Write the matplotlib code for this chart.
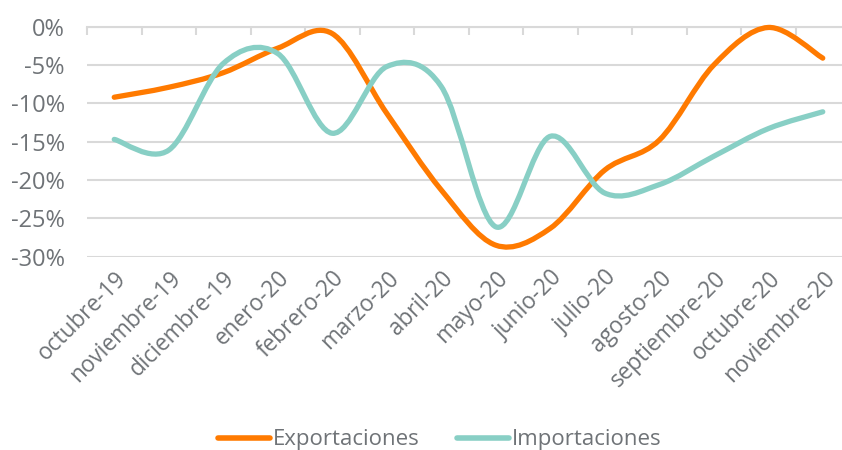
import matplotlib.pyplot as plt
from matplotlib.path import Path
from matplotlib.patches import PathPatch
from matplotlib.lines import Line2D
import numpy as np

plt.rcParams['font.family'] = ['Open Sans', 'DejaVu Sans']

meses = ['octubre-19', 'noviembre-19', 'diciembre-19', 'enero-20', 'febrero-20',
         'marzo-20', 'abril-20', 'mayo-20', 'junio-20', 'julio-20', 'agosto-20',
         'septiembre-20', 'octubre-20', 'noviembre-20']
exportaciones = [-9.2, -7.9, -6.0, -2.8, -0.9, -11.3, -21.3, -28.5, -26.3,
                 -18.7, -14.8, -5.0, -0.1, -4.1]
importaciones = [-14.7, -16.1, -4.8, -3.5, -13.9, -5.2, -7.8, -26.1, -14.3,
                 -21.7, -20.6, -16.9, -13.3, -11.1]
yticks = [0, -5, -10, -15, -20, -25, -30]

naranja = '#FF7A00'
verde = '#88CFC5'
gris = '#6f7377'


def curva_suave(x, y):
    # bezier segments with catmull-rom style tangents (smoothed line)
    x = np.asarray(x, float)
    y = np.asarray(y, float)
    n = len(x)
    verts = [(x[0], y[0])]
    codes = [Path.MOVETO]
    for i in range(n - 1):
        x0, y0 = (x[i - 1], y[i - 1]) if i > 0 else (x[i], y[i])
        x3, y3 = (x[i + 2], y[i + 2]) if i + 2 < n else (x[i + 1], y[i + 1])
        c1 = (x[i] + (x[i + 1] - x0) / 6, y[i] + (y[i + 1] - y0) / 6)
        c2 = (x[i + 1] - (x3 - x[i]) / 6, y[i + 1] - (y3 - y[i]) / 6)
        verts += [c1, c2, (x[i + 1], y[i + 1])]
        codes += [Path.CURVE4] * 3
    return Path(verts, codes)


fig = plt.figure(figsize=(8.42, 4.5), dpi=100)
ax = fig.add_axes([87 / 842, 193.3 / 450, 763 / 842, 230 / 450])

pos = np.arange(len(meses))
for serie, color in [(exportaciones, naranja), (importaciones, verde)]:
    ax.add_patch(PathPatch(curva_suave(pos, serie), fill=False, edgecolor=color,
                           lw=3.8, capstyle='round', joinstyle='round',
                           clip_on=False, zorder=3))

ax.set_xlim(-0.5, len(meses) - 0.5)
ax.set_ylim(-30, 0)
ax.set_yticks(yticks)
ax.set_yticklabels([f'{v}%' for v in yticks])
ax.yaxis.grid(True, color='#d9d9d9', lw=1.5)
ax.set_axisbelow(True)

ax.set_xticks(pos)
ax.set_xticklabels(meses, rotation=45, ha='right', rotation_mode='anchor')
ax.set_xticks(np.arange(len(meses) + 1) - 0.5, minor=True)
ax.tick_params(axis='x', which='major', length=0, pad=7, labelsize=16.3,
               labelcolor=gris)
ax.tick_params(axis='x', which='minor', bottom=False, top=True,
               direction='in', length=6, color='#d9d9d9', width=1.5)
ax.tick_params(axis='y', length=0, pad=16, labelsize=17, labelcolor=gris)

for lado in ['left', 'right', 'bottom']:
    ax.spines[lado].set_visible(False)
ax.spines['top'].set_color('#d9d9d9')
ax.spines['top'].set_linewidth(1.5)

handles = [Line2D([], [], color=naranja, lw=4, solid_capstyle='round'),
           Line2D([], [], color=verde, lw=4, solid_capstyle='round')]
fig.legend(handles, ['Exportaciones', 'Importaciones'], loc='center',
           bbox_to_anchor=(440 / 842, 1 - 440 / 450), ncol=2, frameon=False,
           fontsize=16, labelcolor=gris, handlelength=2.3, handletextpad=0.15,
           columnspacing=1.7)

fig.savefig('out.png', dpi=100)
